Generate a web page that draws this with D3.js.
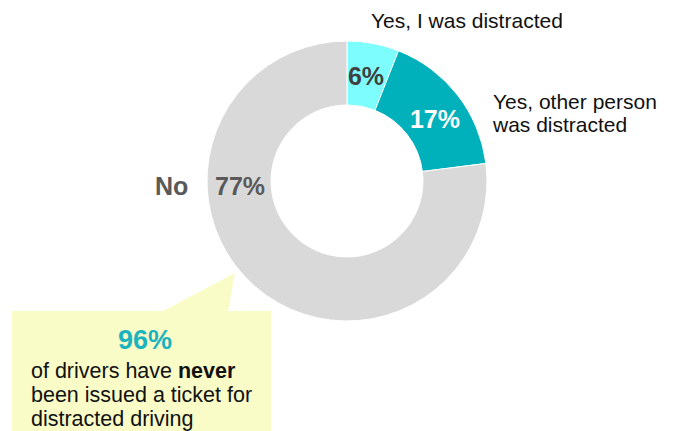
<!DOCTYPE html>
<html>
<head>
<meta charset="utf-8">
<script src="https://cdn.jsdelivr.net/npm/d3@7"></script>
<style>
  body { margin: 0; background: #fff; }
  text { font-family: "Liberation Sans", Arial, sans-serif; }
</style>
</head>
<body>
<div id="chart"></div>
<script>
// chart data
var answers = ['Yes, I was distracted', 'Yes, other person was distracted', 'No'];
var shares = [6, 17, 77];
var sliceColors = ['#7DFDFE', '#00B0BA', '#D9D9D9'];
var valueColors = ['#404040', '#ffffff', '#595959'];
var calloutValue = '96%';
var calloutLines = [['of drivers have ', 'never'], ['been issued a ticket for', ''], ['distracted driving', '']];

var svgWidth = 675;
var svgHeight = 431;

var svg = d3.select('#chart')
  .append('svg')
  .attr('width', svgWidth)
  .attr('height', svgHeight);

// callout box with pointer
var callout = svg.append('g');
callout.append('path')
  .attr('d', 'M12,311 L163,311 L235,273 L228,311 L271,311 L271,431 L12,431 Z')
  .attr('fill', '#FAFCC8');

callout.append('text')
  .attr('x', 145)
  .attr('y', 349)
  .attr('text-anchor', 'middle')
  .style('font-size', '27px')
  .style('font-weight', 'bold')
  .attr('fill', '#1BB3BE')
  .text(calloutValue);

calloutLines.forEach(function(line, i) {
  var t = callout.append('text')
    .attr('x', 31)
    .attr('y', 378 + i * 24)
    .style('font-size', '21.5px')
    .attr('fill', '#111');
  t.append('tspan').text(line[0]);
  if (line[1]) t.append('tspan').style('font-weight', 'bold').text(line[1]);
});

// donut
var cx = 347, cy = 181;
var outerR = 140, innerR = 76;

var pie = d3.pie().sort(null).value(d => d);
var arc = d3.arc().innerRadius(innerR).outerRadius(outerR);

var donut = svg.append('g')
  .attr('transform', `translate(${cx}, ${cy})`);

var arcs = pie(shares);

donut.selectAll('path')
  .data(arcs)
  .enter()
  .append('path')
  .attr('d', arc)
  .attr('fill', (d, i) => sliceColors[i])
  .attr('stroke', '#fff')
  .attr('stroke-width', 1);

// value labels
var valuePos = [[19, -96], [88, -53], [-107, 14]];
donut.selectAll('.val')
  .data(arcs)
  .enter()
  .append('text')
  .attr('class', 'val')
  .attr('x', (d, i) => valuePos[i][0])
  .attr('y', (d, i) => valuePos[i][1])
  .attr('text-anchor', 'middle')
  .style('font-size', '25px')
  .style('font-weight', 'bold')
  .attr('fill', (d, i) => valueColors[i])
  .text(d => d.data + '%');

// category labels
svg.append('text')
  .attr('x', 371)
  .attr('y', 28)
  .style('font-size', '21px')
  .attr('fill', '#111')
  .text(answers[0]);

var other = svg.append('text')
  .style('font-size', '21px')
  .attr('fill', '#111');
other.append('tspan').attr('x', 493).attr('y', 109).text('Yes, other person');
other.append('tspan').attr('x', 493).attr('y', 132).text('was distracted');

svg.append('text')
  .attr('x', 155)
  .attr('y', 195)
  .style('font-size', '25px')
  .style('font-weight', 'bold')
  .attr('fill', '#595959')
  .text(answers[2]);
</script>
</body>
</html>
